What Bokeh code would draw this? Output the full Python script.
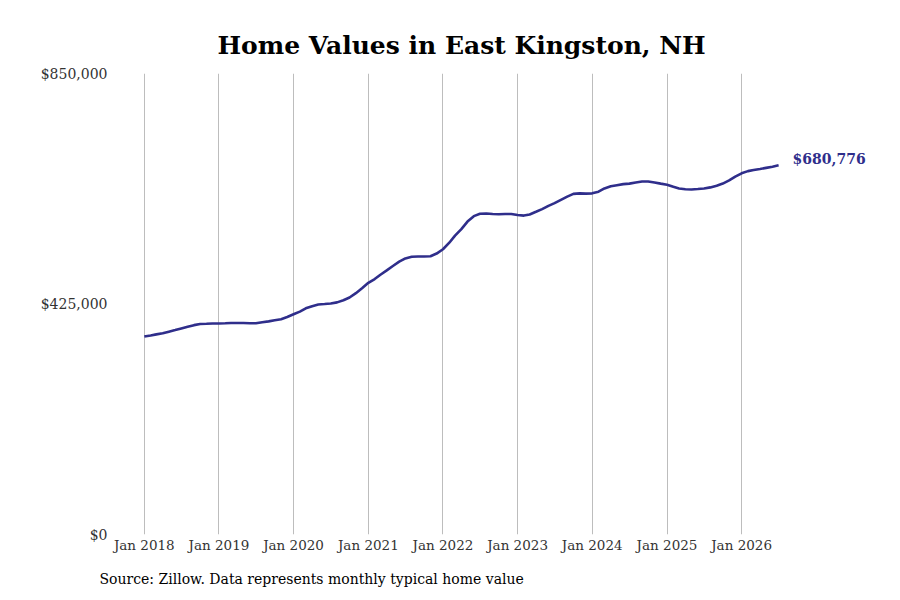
from datetime import datetime
import pandas as pd
from bokeh.plotting import figure
from bokeh.models import Range1d, FixedTicker, NumeralTickFormatter, DatetimeTickFormatter, Title, ColumnDataSource
from bokeh.core.properties import value
from bokeh.embed import file_html
from bokeh.resources import INLINE

# Data
start_month = "2018-01-01"
end_month = "2026-07-01"
home_values = [
    365000, 367000, 369000, 371000, 374000, 377000, 380000, 383000, 386000, 388000, 388500, 389000,
    389000, 389500, 390000, 390000, 390000, 389500, 389500, 391500, 393000, 395000, 397000, 401000,
    406000, 411000, 417000, 421000, 424000, 425000, 426000, 428000, 432000, 437000, 445000, 454000,
    464000, 471000, 479000, 487000, 495000, 503000, 509000, 512000, 512500, 512500, 513000, 518000,
    526000, 538000, 551000, 563000, 577000, 587000, 591500, 592000, 591000, 590500, 591000, 591000,
    589000, 588000, 590000, 595000, 600000, 606000, 611000, 617000, 623000, 628000, 629000, 628500,
    629000, 632000, 638000, 642000, 644000, 646000, 647000, 649000, 651000, 651000, 649000, 647000,
    645000, 641000, 638000, 636500, 636000, 637000, 638000, 640000, 643000, 647000, 653000, 660000,
    666000, 670000, 672000, 674000, 676000, 678000, 680776,
]
y_ticks = [0, 425000, 850000]
x_tick_years = list(range(2018, 2027))
end_label = "$680,776"
title_text = "Home Values in East Kingston, NH"
source_text = "Source: Zillow. Data represents monthly typical home value"

dates = pd.date_range(start_month, end_month, freq="MS")
src = ColumnDataSource(dict(date=dates, val=home_values))

FONT = "DejaVu Serif"
LINE_COLOR = "#2f2e8b"

p = figure(width=884, height=600, output_backend="svg", toolbar_location=None,
           x_axis_type="datetime",
           x_range=Range1d(datetime(2017, 8, 13), datetime(2027, 10, 18)),
           y_range=Range1d(0, 850000),
           min_border_left=115, min_border_right=9, min_border_top=73, min_border_bottom=66)
p.outline_line_color = None
p.background_fill_color = "white"
p.border_fill_color = "white"

p.title.text = title_text
p.title.align = "left"
p.title.offset = 102
p.title.text_font = FONT
p.title.text_font_style = "bold"
p.title.text_font_size = "25px"
p.title.text_color = "black"
p.title.standoff = 28

p.line("date", "val", source=src, line_color=LINE_COLOR, line_width=2.6)

p.text(x=[dates[-1]], y=[home_values[-1]], text=[end_label], text_font=value(FONT),
       text_font_style="bold", text_font_size="14px", text_color=LINE_COLOR,
       text_align="left", text_baseline="middle", x_offset=14, y_offset=-6)

p.xaxis.ticker = FixedTicker(ticks=[datetime(y, 1, 1).timestamp() * 1000 for y in x_tick_years])
p.xaxis.formatter = DatetimeTickFormatter(days="%b %Y", months="%b %Y", years="%b %Y")
p.yaxis.ticker = FixedTicker(ticks=y_ticks)
p.yaxis.formatter = NumeralTickFormatter(format="$0,0")

for ax in (p.xaxis[0], p.yaxis[0]):
    ax.axis_line_color = None
    ax.major_tick_line_color = None
    ax.minor_tick_line_color = None
    ax.major_tick_out = 0
    ax.major_tick_in = 0
    ax.minor_tick_out = 0
    ax.major_label_text_font = FONT
    ax.major_label_text_font_size = "13.5px"
    ax.major_label_text_color = "#333333"
p.yaxis.major_label_text_font_size = "14px"
p.xaxis.major_label_standoff = 2
p.yaxis.major_label_standoff = 8

p.xgrid.grid_line_color = "#bdbdbd"
p.xgrid.grid_line_width = 1
p.ygrid.grid_line_color = None

p.add_layout(Title(text=source_text, align="left", offset=-16, text_font=FONT,
                   text_font_size="14px", text_font_style="normal", text_color="black",
                   standoff=27), "below")

open("out.html", "w").write(file_html(p, INLINE))
